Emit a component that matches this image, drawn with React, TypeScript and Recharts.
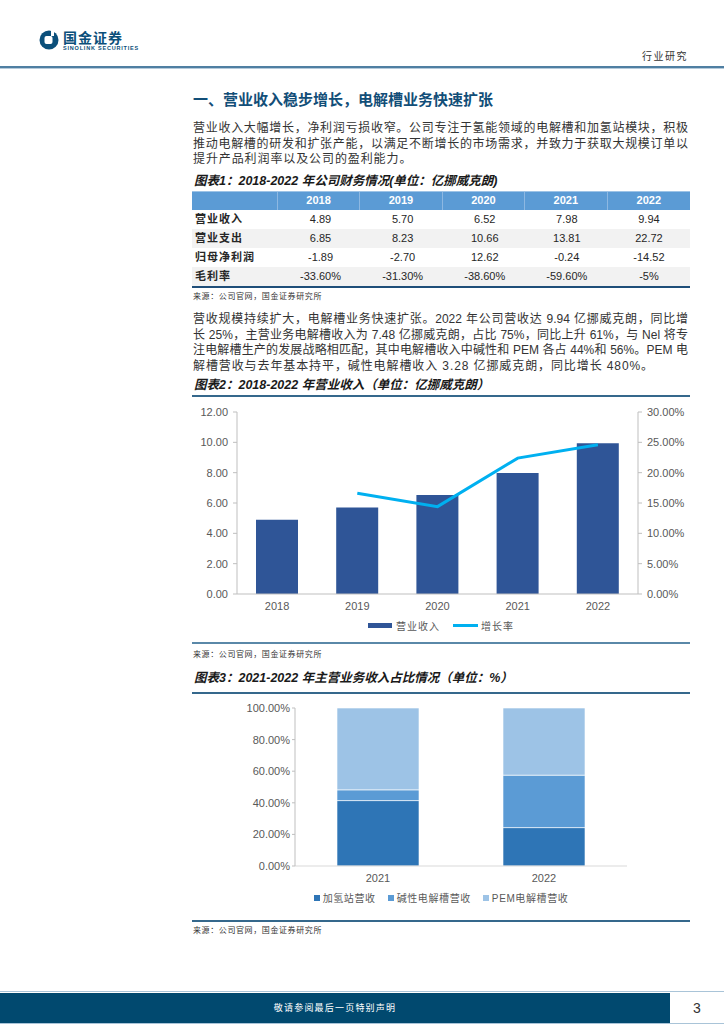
import React from "react";
import {
  ComposedChart,
  BarChart,
  Bar,
  Line,
  XAxis,
  YAxis,
  Legend,
} from "recharts";

// ---- data ----
const years = ["2018", "2019", "2020", "2021", "2022"];
const revenue = [4.89, 5.7, 6.52, 7.98, 9.94];
const expense = [6.85, 8.23, 10.66, 13.81, 22.72];
const netProfit = [-1.89, -2.7, 12.62, -0.24, -14.52];
const grossMargin = ["-33.60%", "-31.30%", "-38.60%", "-59.60%", "-5%"];
const growthRate = [null, 16.6, 14.4, 22.4, 24.6];

const leftTicks = [0, 2, 4, 6, 8, 10, 12];
const rightTicks = [0, 5, 10, 15, 20, 25, 30];

const shareYears = ["2021", "2022"];
const stationShare = [41.4, 24.3];
const alkalineShare = [6.8, 33.2];
const pemShare = [51.8, 42.5];
const shareTicks = [0, 20, 40, 60, 80, 100];

const FONT = '"Liberation Sans", "Noto Sans CJK SC", sans-serif';
const AXIS_TEXT = "#595959";

const para1 = [
  "营业收入大幅增长，净利润亏损收窄。公司专注于氢能领域的电解槽和加氢站模块，积极",
  "推动电解槽的研发和扩张产能，以满足不断增长的市场需求，并致力于获取大规模订单以",
  "提升产品利润率以及公司的盈利能力。",
];
const para2 = [
  "营收规模持续扩大，电解槽业务快速扩张。2022 年公司营收达 9.94 亿挪威克朗，同比增",
  "长 25%，主营业务电解槽收入为 7.48 亿挪威克朗，占比 75%，同比上升 61%，与 Nel 将专",
  "注电解槽生产的发展战略相匹配，其中电解槽收入中碱性和 PEM 各占 44%和 56%。PEM 电",
  "解槽营收与去年基本持平，碱性电解槽收入 3.28 亿挪威克朗，同比增长 480%。",
];

const revenueData = years.map((y, i) => ({
  year: y,
  revenue: revenue[i],
  growth: growthRate[i],
}));

const shareData = shareYears.map((y, i) => ({
  year: y,
  station: stationShare[i],
  alkaline: alkalineShare[i],
  pem: pemShare[i],
}));

const abs = (left: number, top: number, extra: React.CSSProperties = {}) =>
  ({ position: "absolute", left, top, ...extra } as React.CSSProperties);

function Paragraph({ lines, top }: { lines: string[]; top: number }) {
  return (
    <>
      {lines.map((l, i) => (
        <div
          key={i}
          style={abs(193, top + i * 15.5, {
            width: 495,
            height: 16,
            lineHeight: "16px",
            fontSize: 12,
            color: "#333",
            whiteSpace: "nowrap",
            textAlign: "justify",
            textAlignLast: i === lines.length - 1 ? "left" : "justify",
            letterSpacing: i === lines.length - 1 ? 0.9 : 0,
          })}
        >
          {l}
        </div>
      ))}
    </>
  );
}

function FigTitle({ text, top }: { text: string; top: number }) {
  return (
    <div
      style={abs(194, top, {
        fontSize: 12.5,
        fontWeight: 700,
        fontStyle: "italic",
        color: "#1a1a1a",
        lineHeight: "16px",
        whiteSpace: "nowrap",
      })}
    >
      {text}
    </div>
  );
}

function Source({ top }: { top: number }) {
  return (
    <div style={abs(193, top, { fontSize: 8, color: "#333", lineHeight: "10px", letterSpacing: 0.6 })}>
      来源：公司官网，国金证券研究所
    </div>
  );
}

function Rule({ top, h = 1.5, color = "#35688c" }: { top: number; h?: number; color?: string }) {
  return <div style={abs(192, top, { width: 498, height: h, background: color })} />;
}

function FinanceTable() {
  const rows: { label: string; cells: (string | number)[] }[] = [
    { label: "营业收入", cells: revenue.map((v) => v.toFixed(2)) },
    { label: "营业支出", cells: expense.map((v) => v.toFixed(2)) },
    { label: "归母净利润", cells: netProfit.map((v) => v.toFixed(2)) },
    { label: "毛利率", cells: grossMargin },
  ];
  const colW = (690 - 277) / 5;
  return (
    <div style={abs(192, 191, { width: 498 })}>
      <div style={{ display: "flex", height: 18, background: "#5b9bd5", borderTop: "1px solid #9dc3e6" }}>
        <div style={{ width: 85, borderRight: "1px solid #8db8e2" }} />
        {years.map((y, i) => (
          <div
            key={y}
            style={{
              width: colW,
              textAlign: "center",
              color: "#fff",
              fontWeight: 700,
              fontSize: 11,
              lineHeight: "17px",
              borderRight: i < 4 ? "1px solid #8db8e2" : "none",
              boxSizing: "border-box",
            }}
          >
            {y}
          </div>
        ))}
      </div>
      {rows.map((r, ri) => (
        <div
          key={r.label}
          style={{
            display: "flex",
            height: 19,
            lineHeight: "19px",
            background: ri % 2 === 1 ? "#f2f2f2" : "#fff",
            fontSize: 11,
            color: "#262626",
          }}
        >
          <div style={{ width: 85, paddingLeft: 3, fontWeight: 700, letterSpacing: 1 }}>{r.label}</div>
          {r.cells.map((c, ci) => (
            <div key={ci} style={{ width: colW, textAlign: "center" }}>
              {c}
            </div>
          ))}
        </div>
      ))}
      <div style={{ height: 2, background: "#1f4e79" }} />
    </div>
  );
}

function RevenueLegend() {
  return (
    <div
      style={{
        display: "flex",
        justifyContent: "center",
        alignItems: "center",
        fontSize: 10,
        color: AXIS_TEXT,
        letterSpacing: 1,
        width: 498,
        paddingTop: 2,
      }}
    >
      <span style={{ width: 24, height: 5, background: "#2f5597", marginRight: 4 }} />
      <span style={{ marginRight: 13 }}>营业收入</span>
      <span style={{ width: 25, height: 3, background: "#00b0f0", marginRight: 3 }} />
      <span>增长率</span>
    </div>
  );
}

const shareSeries = [
  { key: "station", name: "加氢站营收", color: "#2e75b6" },
  { key: "alkaline", name: "碱性电解槽营收", color: "#5b9bd5" },
  { key: "pem", name: "PEM电解槽营收", color: "#9dc3e6" },
];

function ShareLegend() {
  return (
    <div
      style={{
        display: "flex",
        justifyContent: "center",
        alignItems: "center",
        fontSize: 10,
        color: AXIS_TEXT,
        letterSpacing: 0.6,
        width: 498,
      }}
    >
      {shareSeries.map((s, i) => (
        <React.Fragment key={s.key}>
          <span style={{ width: 6, height: 6, background: s.color, marginRight: 3 }} />
          <span style={{ marginRight: i < 2 ? 12 : 0 }}>{s.name}</span>
        </React.Fragment>
      ))}
    </div>
  );
}

function Logo() {
  return (
    <svg width={20} height={20} viewBox="0 0 20 20" style={abs(39, 30)}>
      <circle cx={10} cy={10} r={9.5} fill="#0b4f7a" />
      <rect x={5.5} y={6} width={8} height={8} rx={2} fill="#fff" />
      <rect x={12} y={0} width={3} height={6} fill="#fff" />
    </svg>
  );
}

export default function App() {
  return (
    <div
      style={{
        position: "absolute",
        left: 0,
        top: 0,
        width: 724,
        height: 1024,
        background: "#fff",
        fontFamily: FONT,
        overflow: "hidden",
      }}
    >
      {/* header */}
      <Logo />
      <div style={abs(63, 30, { fontSize: 14, fontWeight: 700, color: "#0b4f7a", lineHeight: "16px", letterSpacing: 1 })}>
        国金证券
      </div>
      <div style={abs(63, 45, { fontSize: 5.5, fontWeight: 700, color: "#0b4f7a", lineHeight: "6px", letterSpacing: 0.8 })}>
        SINOLINK SECURITIES
      </div>
      <div style={abs(642, 51, { fontSize: 10, color: "#333", lineHeight: "12px", letterSpacing: 1.5 })}>行业研究</div>
      <div style={abs(0, 66, { width: 724, height: 2, background: "#4f7fa2" })} />
      <div style={abs(0, 68, { width: 724, height: 1, background: "#b5cadb" })} />

      {/* section title */}
      <div style={abs(193, 91, { fontSize: 15, fontWeight: 700, color: "#124e78", lineHeight: "18px", whiteSpace: "nowrap" })}>
        一、营业收入稳步增长，电解槽业务快速扩张
      </div>

      <Paragraph lines={para1} top={120} />

      {/* figure 1 */}
      <FigTitle text="图表1：2018-2022 年公司财务情况(单位：亿挪威克朗)" top={173} />
      <FinanceTable />
      <Source top={292} />

      <Paragraph lines={para2} top={311} />

      {/* figure 2 */}
      <FigTitle text="图表2：2018-2022 年营业收入（单位：亿挪威克朗）" top={377} />
      <Rule top={395} />
      <div style={abs(192, 398)}>
        <ComposedChart
          width={498}
          height={242}
          data={revenueData}
          margin={{ top: 14, right: 0, bottom: 0, left: 0 }}
        >
          <XAxis
            dataKey="year"
            axisLine={{ stroke: "#bfbfbf" }}
            tickLine={false}
            tick={{ fill: AXIS_TEXT, fontSize: 11 }}
            height={22}
          />
          <YAxis
            yAxisId="l"
            domain={[0, 12]}
            ticks={leftTicks}
            tickFormatter={(v: number) => v.toFixed(2)}
            width={45}
            axisLine={{ stroke: "#bfbfbf" }}
            tickLine={{ stroke: "#bfbfbf" }}
            tickSize={4}
            tickMargin={5}
            tick={{ fill: AXIS_TEXT, fontSize: 11 }}
          />
          <YAxis
            yAxisId="r"
            orientation="right"
            domain={[0, 30]}
            ticks={rightTicks}
            tickFormatter={(v: number) => v.toFixed(2) + "%"}
            width={52}
            axisLine={{ stroke: "#bfbfbf" }}
            tickLine={{ stroke: "#bfbfbf" }}
            tickSize={4}
            tickMargin={5}
            tick={{ fill: AXIS_TEXT, fontSize: 11 }}
          />
          <Bar yAxisId="l" dataKey="revenue" name="营业收入" fill="#2f5597" barSize={42} isAnimationActive={false} />
          <Line
            yAxisId="r"
            type="linear"
            dataKey="growth"
            name="增长率"
            stroke="#00b0f0"
            strokeWidth={3}
            dot={false}
            activeDot={false}
            isAnimationActive={false}
          />
          <Legend
            verticalAlign="bottom"
            height={24}
            wrapperStyle={{ left: 0, width: 498 }}
            content={() => <RevenueLegend />}
          />
        </ComposedChart>
      </div>
      <Rule top={642} h={2} color="#5a88a8" />
      <Source top={650} />

      {/* figure 3 */}
      <FigTitle text="图表3：2021-2022 年主营业务收入占比情况（单位：%）" top={670} />
      <Rule top={692} />
      <div style={abs(192, 698)}>
        <BarChart
          width={498}
          height={220}
          data={shareData}
          margin={{ top: 10, right: 63, bottom: 0, left: 0 }}
        >
          <XAxis
            dataKey="year"
            axisLine={{ stroke: "#d9d9d9" }}
            tickLine={false}
            tick={{ fill: AXIS_TEXT, fontSize: 11 }}
            height={24}
          />
          <YAxis
            domain={[0, 100]}
            ticks={shareTicks}
            tickFormatter={(v: number) => v.toFixed(2) + "%"}
            width={103}
            axisLine={{ stroke: "#bfbfbf" }}
            tickLine={{ stroke: "#bfbfbf" }}
            tickSize={3}
            tickMargin={2}
            tick={{ fill: AXIS_TEXT, fontSize: 11 }}
          />
          {shareSeries.map((s) => (
            <Bar
              key={s.key}
              dataKey={s.key}
              name={s.name}
              stackId="share"
              fill={s.color}
              stroke="#ffffff"
              strokeWidth={0.6}
              barSize={82}
              isAnimationActive={false}
            />
          ))}
          <Legend
            verticalAlign="bottom"
            height={28}
            wrapperStyle={{ left: 0, width: 498 }}
            content={() => <ShareLegend />}
          />
        </BarChart>
      </div>
      <Rule top={920} />
      <Source top={926} />

      {/* footer */}
      <div style={abs(0, 991, { width: 724, height: 1, background: "#a9c4d8" })} />
      <div style={abs(0, 993, { width: 670, height: 30, background: "#01496f" })} />
      <div style={abs(0, 1023, { width: 724, height: 1, background: "#a9c4d8" })} />
      <div style={abs(0, 993, { width: 670, textAlign: "center", color: "#fff", fontSize: 9, lineHeight: "30px", letterSpacing: 1.2 })}>
        敬请参阅最后一页特别声明
      </div>
      <div style={abs(670, 993, { width: 54, textAlign: "center", color: "#333", fontSize: 14, lineHeight: "30px" })}>3</div>
    </div>
  );
}
